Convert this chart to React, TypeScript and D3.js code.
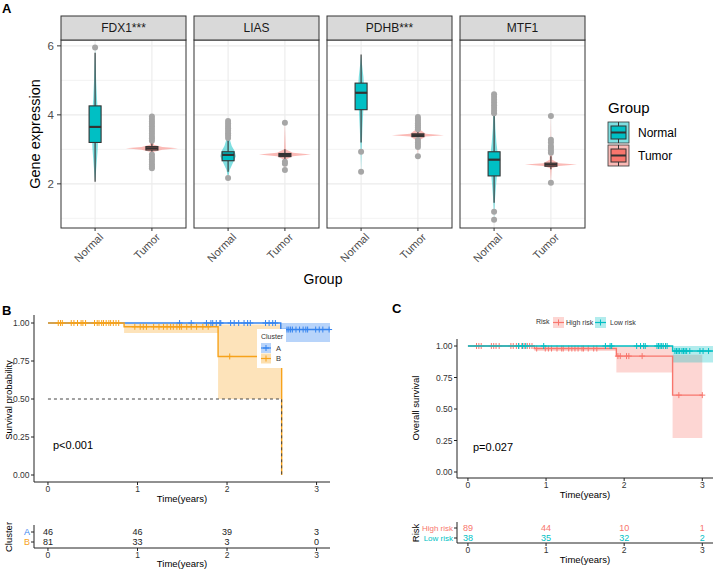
import React from "react";
import * as d3 from "d3";

const FONT = "'Liberation Sans', Arial, Helvetica, sans-serif";

// ---------------- Panel A data ----------------
const genes = ["FDX1***", "LIAS", "PDHB***", "MTF1"];
const groups = ["Normal", "Tumor"];
const yTicksA = [2, 4, 6];
const yMinorA = [1, 3, 5];
// [lowerWhisker, Q1, median, Q3, upperWhisker]
const normalBoxes = [
  [2.06, 3.2, 3.65, 4.26, 5.8],
  [2.35, 2.67, 2.84, 2.93, 3.27],
  [3.2, 4.15, 4.64, 4.92, 5.75],
  [1.45, 2.23, 2.7, 2.93, 4.0],
];
const tumorBoxes = [
  [2.9, 2.98, 3.03, 3.08, 3.2],
  [2.72, 2.79, 2.84, 2.88, 3.0],
  [3.3, 3.37, 3.41, 3.45, 3.52],
  [2.42, 2.51, 2.56, 2.6, 2.8],
];
const normalOutliers = [
  [5.95],
  [3.33, 3.4, 3.47, 3.54, 3.61, 3.68, 3.75, 3.82, 2.17],
  [2.93, 2.35],
  [4.05, 4.12, 4.2, 4.28, 4.36, 4.44, 4.52, 4.6, 1.19, 0.96],
];
const tumorOutliers = [
  [3.25, 3.32, 3.39, 3.46, 3.53, 3.6, 3.67, 3.74, 3.81, 3.88, 3.95, 2.85, 2.78, 2.71, 2.64, 2.57, 2.5, 2.45],
  [3.77, 2.64, 2.58, 2.4],
  [3.58, 3.64, 3.7, 3.76, 3.82, 3.88, 3.94, 3.27, 3.2, 3.13, 3.07, 2.8],
  [3.97, 3.28, 3.2, 3.1, 3.04, 2.97, 2.9, 2.03],
];
// violin profiles: [value, relative half-width]
const normalViolins = [
  [[2.05, 0], [2.5, 0.05], [3.0, 0.1], [3.5, 0.13], [4.0, 0.11], [4.5, 0.07], [5.0, 0.04], [5.5, 0.02], [5.95, 0]],
  [[2.17, 0], [2.4, 0.06], [2.6, 0.18], [2.8, 0.3], [2.95, 0.25], [3.1, 0.14], [3.3, 0.06], [3.6, 0.02], [3.85, 0]],
  [[2.35, 0], [3.0, 0.02], [3.6, 0.05], [4.2, 0.09], [4.7, 0.12], [5.1, 0.09], [5.5, 0.03], [5.75, 0]],
  [[0.96, 0], [1.5, 0.03], [2.0, 0.08], [2.5, 0.14], [2.8, 0.15], [3.2, 0.09], [3.6, 0.05], [4.2, 0.02], [4.64, 0]],
];
const tumorViolins = [
  [[2.45, 0], [2.8, 0.02], [2.93, 0.08], [2.99, 0.4], [3.03, 1], [3.07, 0.4], [3.13, 0.08], [3.3, 0.02], [3.95, 0]],
  [[2.4, 0], [2.7, 0.03], [2.8, 0.3], [2.85, 1], [2.9, 0.3], [3.0, 0.03], [3.77, 0]],
  [[2.8, 0], [3.25, 0.03], [3.37, 0.3], [3.41, 1], [3.45, 0.3], [3.6, 0.03], [3.94, 0]],
  [[2.03, 0], [2.45, 0.03], [2.52, 0.3], [2.56, 1], [2.6, 0.3], [2.7, 0.05], [2.9, 0.04], [3.3, 0.01], [3.97, 0]],
];

// ---------------- Panel B data ----------------
const survTicks = [0, 0.25, 0.5, 0.75, 1];
const survTickLabels = ["0.00", "0.25", "0.50", "0.75", "1.00"];
const timeTicks = [0, 1, 2, 3];
const clusterNames = ["A", "B"];
const clusterATimes = [0, 2.6];
const clusterASurv = [1, 0.957];
const clusterALower = [1, 0.875];
const clusterAUpper = [1, 1];
const clusterAEnd = 3.15;
const clusterACensor = [1.47, 1.6, 1.77, 1.82, 1.84, 1.88, 1.92, 1.93, 2.04, 2.08, 2.13, 2.19, 2.23, 2.26, 2.43, 2.47, 2.51, 2.54,
  2.67, 2.69, 2.71, 2.73, 2.77, 2.81, 2.85, 2.88, 2.9, 2.99, 3.03, 3.07, 3.14];
const clusterBTimes = [0, 0.85, 1.9, 2.61];
const clusterBSurv = [1, 0.975, 0.78, 0];
const clusterBLower = [1, 0.935, 0.5, 0];
const clusterBUpper = [1, 0.995, 0.99, 0];
const clusterBEnd = 2.61;
const clusterBCensor = [0.115, 0.14, 0.16, 0.26, 0.29, 0.33, 0.37, 0.39, 0.42, 0.52, 0.55, 0.57, 0.6, 0.62, 0.65, 0.68, 0.7, 0.73, 0.76, 0.79,
  0.97, 1.03, 1.065, 1.1, 1.18, 1.24, 1.29, 1.33, 1.37, 1.4, 1.44, 1.47, 1.49, 1.55, 1.6, 1.66, 1.73, 1.79, 2.03];
const clusterMedian = 2.61;
const riskClusterA = [46, 46, 39, 3];
const riskClusterB = [81, 33, 3, 0];

// ---------------- Panel C data ----------------
const riskNames = ["High risk", "Low risk"];
const highTimes = [0, 0.85, 1.9, 2.62];
const highSurv = [1, 0.98, 0.92, 0.61];
const highLower = [1, 0.96, 0.79, 0.27];
const highUpper = [1, 1, 1, 0.93];
const highEnd = 3.0;
const highCensor = [0.11, 0.14, 0.17, 0.3, 0.33, 0.36, 0.4, 0.55, 0.58, 0.62, 0.65, 0.69, 0.72, 0.76, 0.79, 0.82,
  0.88, 0.99, 1.03, 1.07, 1.14, 1.2, 1.22, 1.29, 1.33, 1.37, 1.41, 1.46, 1.48, 1.54, 1.61, 1.65,
  1.92, 1.95, 2.03, 2.06, 2.23, 2.7, 3.0];
const lowTimes = [0, 2.62];
const lowSurv = [1, 0.96];
const lowLower = [1, 0.87];
const lowUpper = [1, 1];
const lowEnd = 3.15;
const lowCensor = [0.65, 0.7, 0.74, 0.97, 1.76, 1.82, 1.84, 2.16, 2.21, 2.25, 2.27, 2.42, 2.44, 2.46, 2.48, 2.5, 2.53, 2.55,
  2.65, 2.67, 2.69, 2.71, 2.74, 2.76, 2.78, 2.8, 2.84, 2.97, 3.01, 3.08];
const riskHigh = [89, 44, 10, 1];
const riskLow = [38, 35, 32, 2];

const TEAL = "#00BFC4";
const PINK = "#F8766D";
const BLUE = "#3584F0";
const ORANGE = "#F7A21B";

function Violin({ prof, cx, y, mh, color }: { prof: number[][]; cx: number; y: any; mh: number; color: string }) {
  const area = d3
    .area<number[]>()
    .y((d) => y(d[0]))
    .x0((d) => cx - d[1] * mh)
    .x1((d) => cx + d[1] * mh);
  return <path d={area(prof) || ""} fill={color} fillOpacity={0.5} stroke="none" />;
}

function BoxPlot({ b, cx, y, color, hw }: { b: number[]; cx: number; y: any; color: string; hw: number }) {
  return (
    <g stroke="#333" strokeWidth={1.1}>
      <line x1={cx} x2={cx} y1={y(b[4])} y2={y(b[3])} />
      <line x1={cx} x2={cx} y1={y(b[1])} y2={y(b[0])} />
      <rect x={cx - hw} width={hw * 2} y={y(b[3])} height={Math.max(0.5, y(b[1]) - y(b[3]))} fill={color} />
      <line x1={cx - hw} x2={cx + hw} y1={y(b[2])} y2={y(b[2])} strokeWidth={2.2} />
    </g>
  );
}

function PanelA() {
  const x0s = [61, 194, 327, 460];
  const pw = 125;
  const top = 40;
  const bot = 228;
  const y = d3.scaleLinear().domain([0.72, 6.17]).range([bot, top]);
  const mh = 26;
  return (
    <g fontFamily={FONT}>
      <text x={2} y={13} fontSize={13} fontWeight="bold">A</text>
      {genes.map((g, gi) => {
        const x0 = x0s[gi];
        const x = d3.scaleLinear().domain([0.4, 2.6]).range([x0, x0 + pw]);
        const cxs = groups.map((_, i) => x(i + 1));
        return (
          <g key={g}>
            <rect x={x0} y={top} width={pw} height={bot - top} fill="white" />
            {yMinorA.map((v) => (
              <line key={"m" + v} x1={x0} x2={x0 + pw} y1={y(v)} y2={y(v)} stroke="#EBEBEB" strokeWidth={0.6} />
            ))}
            {yTicksA.map((v) => (
              <line key={"M" + v} x1={x0} x2={x0 + pw} y1={y(v)} y2={y(v)} stroke="#EBEBEB" strokeWidth={1.1} />
            ))}
            {cxs.map((cx, i) => (
              <line key={"v" + i} x1={cx} x2={cx} y1={top} y2={bot} stroke="#EBEBEB" strokeWidth={1.1} />
            ))}
            <Violin prof={normalViolins[gi]} cx={cxs[0]} y={y} mh={mh} color={TEAL} />
            <Violin prof={tumorViolins[gi]} cx={cxs[1]} y={y} mh={mh} color={PINK} />
            <BoxPlot b={normalBoxes[gi]} cx={cxs[0]} y={y} color={TEAL} hw={6} />
            <BoxPlot b={tumorBoxes[gi]} cx={cxs[1]} y={y} color={PINK} hw={6} />
            {normalOutliers[gi].map((v, i) => (
              <circle key={"no" + i} cx={cxs[0]} cy={y(v)} r={3} fill="#A6A6A6" />
            ))}
            {tumorOutliers[gi].map((v, i) => (
              <circle key={"to" + i} cx={cxs[1]} cy={y(v)} r={3} fill="#A6A6A6" />
            ))}
            <rect x={x0} y={top} width={pw} height={bot - top} fill="none" stroke="#333" strokeWidth={1} />
            <rect x={x0} y={16} width={pw} height={top - 16} fill="#D9D9D9" stroke="#333" strokeWidth={1} />
            <text x={x0 + pw / 2} y={32} textAnchor="middle" fontSize={12} fill="#1A1A1A">{g}</text>
            {cxs.map((cx, i) => (
              <g key={"xt" + i}>
                <line x1={cx} x2={cx} y1={bot} y2={bot + 3} stroke="#333" />
                <text
                  transform={`translate(${cx + 3},${bot + 4}) rotate(-45)`}
                  textAnchor="end"
                  dy="0.75em"
                  fontSize={11}
                  fill="#4D4D4D"
                >
                  {groups[i]}
                </text>
              </g>
            ))}
          </g>
        );
      })}
      {yTicksA.map((v) => (
        <g key={"yt" + v}>
          <line x1={57} x2={61} y1={y(v)} y2={y(v)} stroke="#333" />
          <text x={54} y={y(v)} dy="0.35em" textAnchor="end" fontSize={11.5} fill="#4D4D4D">{v}</text>
        </g>
      ))}
      <text transform={`translate(40,${(top + bot) / 2}) rotate(-90)`} textAnchor="middle" fontSize={14.5}>
        Gene expression
      </text>
      <text x={323} y={284} textAnchor="middle" fontSize={14}>Group</text>
      {/* legend */}
      <text x={608} y={113} fontSize={15}>Group</text>
      {groups.map((g, i) => {
        const ky = 122 + i * 23;
        const c = i === 0 ? TEAL : PINK;
        return (
          <g key={"lg" + g}>
            <rect x={608} y={ky} width={21} height={21} fill={c} fillOpacity={0.5} stroke="#333" strokeWidth={0.8} />
            <line x1={618.5} x2={618.5} y1={ky} y2={ky + 4} stroke="#333" />
            <line x1={618.5} x2={618.5} y1={ky + 17} y2={ky + 21} stroke="#333" />
            <rect x={611} y={ky + 4} width={15} height={13} fill={c} stroke="#333" strokeWidth={1} />
            <line x1={611} x2={626} y1={ky + 10.5} y2={ky + 10.5} stroke="#333" strokeWidth={2} />
            <text x={638} y={ky + 10.5} dy="0.35em" fontSize={12}>{g}</text>
          </g>
        );
      })}
    </g>
  );
}

function stepAt(times: number[], surv: number[], t: number) {
  let s = surv[0];
  for (let i = 0; i < times.length; i++) if (times[i] <= t) s = surv[i];
  return s;
}

function KM({ times, surv, lower, upper, end, censor, color, x, y, op }: any) {
  const n = times.length;
  const pts = times.map((t: number, i: number) => [t, surv[i], lower[i], upper[i]]);
  pts.push([end, surv[n - 1], lower[n - 1], upper[n - 1]]);
  const line = d3
    .line<number[]>()
    .x((d) => x(d[0]))
    .y((d) => y(d[1]))
    .curve(d3.curveStepAfter);
  const area = d3
    .area<number[]>()
    .x((d) => x(d[0]))
    .y0((d) => y(d[2]))
    .y1((d) => y(d[3]))
    .curve(d3.curveStepAfter);
  return {
    band: <path d={area(pts) || ""} fill={color} fillOpacity={op} stroke="none" />,
    line: (
      <g>
        <path d={line(pts) || ""} fill="none" stroke={color} strokeWidth={1.4} />
        {censor.map((t: number, i: number) => (
          <path
            key={i}
            transform={`translate(${x(t)},${y(stepAt(times, surv, t))})`}
            d="M-3,0H3M0,-3V3"
            stroke={color}
            strokeWidth={1}
          />
        ))}
      </g>
    ),
  };
}

const TICK_FS = 8.5;
const TITLE_FS = 9.5;

function SurvYAxis({ ax, y }: { ax: number; y: any }) {
  return (
    <g>
      {survTicks.map((v, i) => (
        <g key={"sy" + i}>
          <line x1={ax - 3} x2={ax} y1={y(v)} y2={y(v)} stroke="#222" />
          <text x={ax - 4.5} y={y(v) + 3} textAnchor="end" fontSize={TICK_FS} fill="#333" fontFamily={FONT}>
            {survTickLabels[i]}
          </text>
        </g>
      ))}
    </g>
  );
}

function PanelB() {
  const x = d3.scaleLinear().domain([-0.156, 3.15]).range([34, 330]);
  const y = d3.scaleLinear().domain([0, 1]).range([475, 323]);
  const a = KM({ times: clusterATimes, surv: clusterASurv, lower: clusterALower, upper: clusterAUpper, end: clusterAEnd, censor: clusterACensor, color: BLUE, x, y, op: 0.35 });
  const b = KM({ times: clusterBTimes, surv: clusterBSurv, lower: clusterBLower, upper: clusterBUpper, end: clusterBEnd, censor: clusterBCensor, color: ORANGE, x, y, op: 0.3 });
  const colors = [BLUE, ORANGE];
  const risks = [riskClusterA, riskClusterB];
  const rowY = [532, 542];
  return (
    <g fontFamily={FONT}>
      <text x={2} y={315} fontSize={13} fontWeight="bold">B</text>
      {a.band}
      {b.band}
      {a.line}
      {b.line}
      <path
        d={`M${x(0)},${y(0.5)}H${x(clusterMedian)}V${y(0)}`}
        fill="none"
        stroke="#444"
        strokeDasharray="3,3"
        strokeWidth={1}
      />
      <line x1={34} x2={34} y1={315} y2={482} stroke="#222" />
      <line x1={34} x2={330} y1={482} y2={482} stroke="#222" />
      <SurvYAxis ax={34} y={y} />
      {timeTicks.map((t) => (
        <g key={"tx" + t}>
          <line x1={x(t)} x2={x(t)} y1={482} y2={485} stroke="#222" />
          <text x={x(t)} y={489} dy="0.35em" textAnchor="middle" fontSize={TICK_FS} fill="#333">{t}</text>
        </g>
      ))}
      <text x={182} y={499} dy="0.35em" textAnchor="middle" fontSize={TITLE_FS}>Time(years)</text>
      <text transform={`translate(12,400) rotate(-90)`} textAnchor="middle" fontSize={TITLE_FS}>Survival probability</text>
      <text x={53} y={445} dy="0.35em" fontSize={11}>p&lt;0.001</text>
      {/* legend */}
      <rect x={257} y={329} width={29} height={39} fill="white" />
      <text x={261} y={336.5} dy="0.35em" fontSize={7} fill="#333">Cluster</text>
      {clusterNames.map((c, i) => {
        const ky = 343 + i * 10.5;
        return (
          <g key={"lb" + c}>
            <rect x={261} y={ky} width={10} height={10} fill={colors[i]} fillOpacity={0.35} />
            <line x1={261} x2={271} y1={ky + 5} y2={ky + 5} stroke={colors[i]} strokeWidth={1.2} />
            <path transform={`translate(266,${ky + 5})`} d="M-3,0H3M0,-3V3" stroke={colors[i]} />
            <text x={276} y={ky + 5} dy="0.35em" fontSize={7.5} fill="#333">{c}</text>
          </g>
        );
      })}
      {/* risk table */}
      <line x1={34} x2={34} y1={525} y2={548} stroke="#222" />
      <line x1={34} x2={330} y1={548} y2={548} stroke="#222" />
      {clusterNames.map((c, i) => (
        <g key={"rt" + c}>
          <line x1={31} x2={34} y1={rowY[i]} y2={rowY[i]} stroke="#222" />
          <text x={30} y={rowY[i]} dy="0.35em" textAnchor="end" fontSize={9} fill={colors[i]}>{c}</text>
          {risks[i].map((n, j) => (
            <text key={j} x={x(timeTicks[j])} y={rowY[i]} dy="0.35em" textAnchor="middle" fontSize={9} fill="#222">{n}</text>
          ))}
        </g>
      ))}
      {timeTicks.map((t) => (
        <g key={"tx2" + t}>
          <line x1={x(t)} x2={x(t)} y1={548} y2={551} stroke="#222" />
          <text x={x(t)} y={555} dy="0.35em" textAnchor="middle" fontSize={TICK_FS} fill="#333">{t}</text>
        </g>
      ))}
      <text x={182} y={563.5} dy="0.35em" textAnchor="middle" fontSize={TITLE_FS}>Time(years)</text>
      <text transform={`translate(12,537) rotate(-90)`} textAnchor="middle" fontSize={TITLE_FS}>Cluster</text>
    </g>
  );
}

function PanelC() {
  const x = d3.scaleLinear().domain([-0.14, 3.15]).range([457, 714]);
  const y = d3.scaleLinear().domain([0, 1]).range([472, 346]);
  const h = KM({ times: highTimes, surv: highSurv, lower: highLower, upper: highUpper, end: highEnd, censor: highCensor, color: PINK, x, y, op: 0.3 });
  const l = KM({ times: lowTimes, surv: lowSurv, lower: lowLower, upper: lowUpper, end: lowEnd, censor: lowCensor, color: TEAL, x, y, op: 0.3 });
  const colors = [PINK, TEAL];
  const risks = [riskHigh, riskLow];
  const rowY = [528, 538];
  const legX = [553, 595];
  const legT = [566, 610];
  return (
    <g fontFamily={FONT}>
      <text x={392} y={313} fontSize={13} fontWeight="bold">C</text>
      {h.band}
      {l.band}
      {h.line}
      {l.line}
      <line x1={457} x2={457} y1={339} y2={478} stroke="#222" />
      <line x1={457} x2={713} y1={478} y2={478} stroke="#222" />
      <SurvYAxis ax={457} y={y} />
      {timeTicks.map((t) => (
        <g key={"tx" + t}>
          <line x1={x(t)} x2={x(t)} y1={478} y2={481} stroke="#222" />
          <text x={x(t)} y={485} dy="0.35em" textAnchor="middle" fontSize={TICK_FS} fill="#333">{t}</text>
        </g>
      ))}
      <text x={585} y={495} dy="0.35em" textAnchor="middle" fontSize={TITLE_FS}>Time(years)</text>
      <text transform={`translate(419,408) rotate(-90)`} textAnchor="middle" fontSize={TITLE_FS}>Overall survival</text>
      <text x={473} y={447} dy="0.35em" fontSize={11}>p=0.027</text>
      {/* legend */}
      <text x={536} y={322} dy="0.35em" fontSize={7} fill="#333">Risk</text>
      {riskNames.map((r, i) => (
        <g key={"lc" + r}>
          <rect x={legX[i]} y={317} width={11} height={11} fill={colors[i]} fillOpacity={0.3} />
          <line x1={legX[i]} x2={legX[i] + 11} y1={322.5} y2={322.5} stroke={colors[i]} strokeWidth={1.2} />
          <path transform={`translate(${legX[i] + 5.5},322.5)`} d="M-3,0H3M0,-3V3" stroke={colors[i]} />
          <text x={legT[i]} y={322.5} dy="0.35em" fontSize={7} fill="#333">{r}</text>
        </g>
      ))}
      {/* risk table */}
      <line x1={457} x2={457} y1={522} y2={543} stroke="#222" />
      <line x1={457} x2={713} y1={543} y2={543} stroke="#222" />
      {riskNames.map((r, i) => (
        <g key={"rt" + r}>
          <line x1={454} x2={457} y1={rowY[i]} y2={rowY[i]} stroke="#222" />
          <text x={453} y={rowY[i]} dy="0.35em" textAnchor="end" fontSize={8} fill={colors[i]}>{r}</text>
          {risks[i].map((n, j) => (
            <text key={j} x={x(timeTicks[j])} y={rowY[i]} dy="0.35em" textAnchor="middle" fontSize={9} fill={colors[i]}>{n}</text>
          ))}
        </g>
      ))}
      {timeTicks.map((t) => (
        <g key={"tx2" + t}>
          <line x1={x(t)} x2={x(t)} y1={543} y2={546} stroke="#222" />
          <text x={x(t)} y={550} dy="0.35em" textAnchor="middle" fontSize={TICK_FS} fill="#333">{t}</text>
        </g>
      ))}
      <text x={585} y={560} dy="0.35em" textAnchor="middle" fontSize={TITLE_FS}>Time(years)</text>
      <text transform={`translate(419,533) rotate(-90)`} textAnchor="middle" fontSize={TITLE_FS}>Risk</text>
    </g>
  );
}

export default function App() {
  return (
    <svg
      width={713}
      height={569}
      viewBox="0 0 713 569"
      style={{ position: "absolute", left: 0, top: 0, background: "white" }}
    >
      <rect width={713} height={569} fill="white" />
      <PanelA />
      <PanelB />
      <PanelC />
    </svg>
  );
}
